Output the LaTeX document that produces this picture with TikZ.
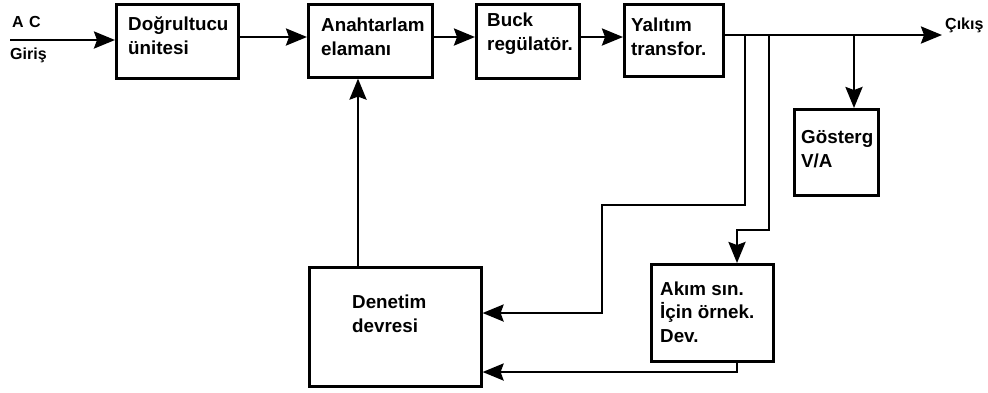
\documentclass[tikz,border=0pt]{standalone}
\usepackage{fontspec}
\setmainfont{Liberation Sans}
\usetikzlibrary{arrows.meta,calc}
\begin{document}
\begin{tikzpicture}[x=1pt,y=-1pt,
  box/.style={draw,line width=2.6pt,anchor=north west,inner sep=0pt},
  txt/.style={anchor=base west,inner sep=0pt,font=\bfseries\fontsize{18.8}{23.5}\selectfont,align=left},
  hand/.style={anchor=base west,inner sep=0pt,font=\bfseries\fontsize{16}{18}\selectfont},
  wire/.style={line width=2.6pt},
  arr/.style={wire,-{Stealth[length=21pt,width=17pt,inset=3pt]}}]
\useasboundingbox (0,0) rectangle (988,392);
% boxes
\node[box,minimum width=122pt,minimum height=74pt] (dog) at (115,3) {};
\node[box,minimum width=124pt,minimum height=73pt] (ana) at (307,3) {};
\node[box,minimum width=103pt,minimum height=74pt] (buc) at (475,3) {};
\node[box,minimum width=99pt,minimum height=72pt] (yal) at (623,3) {};
\node[box,minimum width=84pt,minimum height=86pt] (gos) at (793,108) {};
\node[box,minimum width=172pt,minimum height=119pt] (den) at (308,266) {};
\node[box,minimum width=122pt,minimum height=97pt] (aki) at (650,263) {};
% texts (anchored at the baseline of the last line)
\node[txt] (tdog) at (128,54) {Doğrultucu\\ünitesi};
\node[txt] (tana) at (321,55) {Anahtarlam\\elamanı};
\node[txt] (tbuc) at (487,50) {Buck\\regülatör.};
\node[txt] (tyal) at (631,55) {Yalıtım\\transfor.};
\node[txt] (tgos) at (801,167) {Gösterg\\V/A};
\node[txt] (tden) at (352,332) {Denetim\\devresi};
\node[txt] (taki) at (660,342) {Akım sın.\\İçin örnek.\\Dev.};
\node[hand] (tac) at (12,27) {A\,\,C};
\node[hand] (tgir) at (10,59) {Giriş};
% coordinates
\coordinate (m) at (0,37);
\coordinate (mo) at (0,35);
\coordinate (in) at (10,40);
\coordinate (out) at (942,35);
\coordinate (j1) at (745,35);
\coordinate (j2) at (769,35);
\coordinate (j3) at (854,35);
\coordinate (k1) at (602,205);
\coordinate (k2) at (602,313);
\coordinate (k3) at (737,230);
\coordinate (k4) at (737,372);
\coordinate (k5) at (358,0);
\node[hand] (tcik) at (945,29) {Çıkış};
% connectors
\draw[arr] (in) -- (dog.west |- in);
\draw[arr] (dog.east |- m) -- (ana.west |- m);
\draw[arr] (ana.east |- m) -- (buc.west |- m);
\draw[arr] (buc.east |- m) -- (yal.west |- m);
\draw[arr] (yal.east |- mo) -- (out);
\draw[arr] (j3) -- (gos.north -| j3);
\draw[arr] (j1) |- (k1) -- (k2) -- (den.east |- k2);
\draw[arr] (j2) |- (k3) -- (aki.north -| k3);
\draw[arr] (aki.south -| k4) -- (k4) -- (den.east |- k4);
\draw[arr] (den.north -| k5) -- (ana.south -| k5);
\end{tikzpicture}
\end{document}
